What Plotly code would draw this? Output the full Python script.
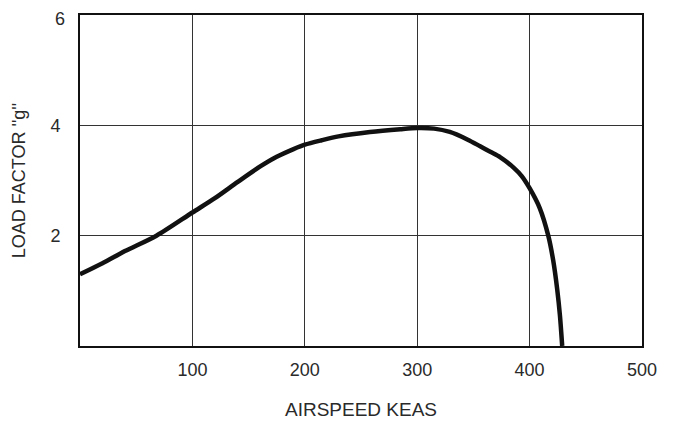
import plotly.graph_objects as go

# Airspeed (KEAS) and load factor (g)
airspeed = [0, 20, 40, 68, 100, 120, 140, 160, 175, 190, 200, 215, 230, 258, 285, 300, 315, 329, 345, 356, 365, 374, 386, 393, 400, 409, 416.6, 421, 424.6, 427, 429]
load_factor = [1.30, 1.50, 1.72, 2.00, 2.42, 2.68, 2.97, 3.25, 3.43, 3.57, 3.65, 3.73, 3.80, 3.88, 3.93, 3.95, 3.94, 3.88, 3.74, 3.62, 3.52, 3.42, 3.23, 3.08, 2.86, 2.50, 2.00, 1.55, 1.02, 0.55, 0.0]

x_ticks = [100, 200, 300, 400, 500]
y_ticks = [2, 4]
y_top_label = 6

FONT = "Liberation Sans, Arial, sans-serif"
TXT = "#2a2a2a"

fig = go.Figure()
fig.add_trace(go.Scatter(
    x=airspeed, y=load_factor, mode="lines",
    line=dict(color="#111111", width=4.5, shape="spline", smoothing=0.8),
    hoverinfo="skip", showlegend=False,
))

# top tick label drawn as an annotation, sitting just under the frame's top edge as in the original
fig.add_annotation(
    x=0, xref="paper", y=y_top_label, yref="y", text=str(y_top_label),
    showarrow=False, xanchor="right", yanchor="middle", xshift=-13, yshift=-4,
    font=dict(size=18, family=FONT, color=TXT),
)

# the page body adds an 8px offset, so the figure is sized to fit the window
fig.update_layout(
    width=665, height=415,
    margin=dict(l=72, r=31, t=7, b=77),
    paper_bgcolor="white", plot_bgcolor="white",
    font=dict(family=FONT, color=TXT, size=18),
    xaxis=dict(
        range=[0, 500], tickvals=x_ticks, ticks="", automargin=False,
        showgrid=True, gridcolor="#333333", gridwidth=1,
        showline=True, linecolor="#111111", linewidth=2, mirror=True,
        zeroline=False, ticklabelstandoff=6,
        title=dict(text="AIRSPEED KEAS", font=dict(size=19, family=FONT, color=TXT), standoff=24),
        tickfont=dict(size=18, family=FONT, color=TXT),
    ),
    yaxis=dict(
        range=[0, 6], tickvals=y_ticks, ticks="", automargin=False,
        showgrid=True, gridcolor="#333333", gridwidth=1,
        showline=True, linecolor="#111111", linewidth=2, mirror=True,
        zeroline=False, ticklabelstandoff=14,
        title=dict(text="LOAD FACTOR ''g''", font=dict(size=18, family=FONT, color=TXT), standoff=20),
        tickfont=dict(size=18, family=FONT, color=TXT),
    ),
)

fig.write_html("out.html")
